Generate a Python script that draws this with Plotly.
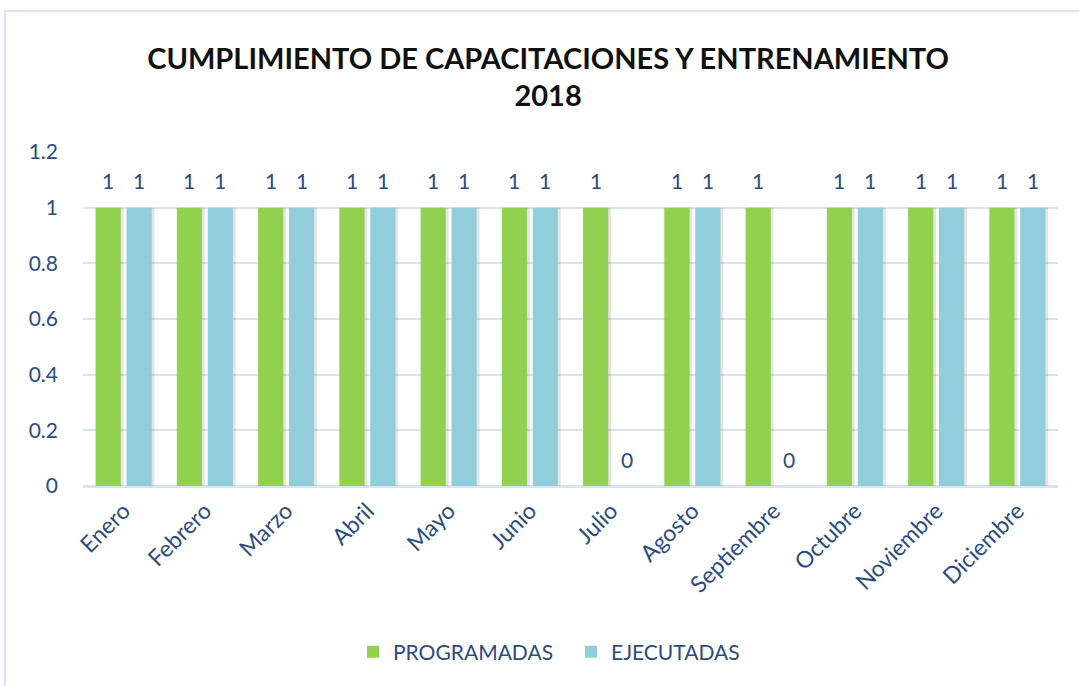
import plotly.graph_objects as go

# Monthly training plan vs. execution, 2018
meses = ["Enero", "Febrero", "Marzo", "Abril", "Mayo", "Junio", "Julio",
         "Agosto", "Septiembre", "Octubre", "Noviembre", "Diciembre"]
programadas = [1, 1, 1, 1, 1, 1, 1, 1, 1, 1, 1, 1]
ejecutadas = [1, 1, 1, 1, 1, 1, 0, 1, 0, 1, 1, 1]
y_ticks = [0, 0.2, 0.4, 0.6, 0.8, 1, 1.2]
y_tick_text = ["0", "0.2", "0.4", "0.6", "0.8", "1", "1.2"]

GREEN = "#92D050"
BLUE = "#92CDDC"
TEXT = "#2B4C7E"
GRID = "#D9E4F1"
FONT = "Lato"

W, H = 1079, 686
ML, MR, MT, MB = 83, 21, 152, 200

idx = list(range(len(meses)))
bar_w = 0.31
series = [
    ("PROGRAMADAS", programadas, GREEN, -0.345),
    ("EJECUTADAS", ejecutadas, BLUE, 0.035),
]

fig = go.Figure()

# soft drop shadow behind each bar
for name, vals, color, off in series:
    fig.add_trace(go.Bar(
        x=idx, y=vals, width=bar_w, offset=off + 0.035,
        marker=dict(color="rgba(0,0,0,0.10)", line=dict(width=0)),
        showlegend=False, hoverinfo="skip",
    ))

for name, vals, color, off in series:
    fig.add_trace(go.Bar(
        x=idx, y=vals, width=bar_w, offset=off, name=name,
        marker=dict(color=color, line=dict(width=0)),
    ))
    # value labels above each bar
    for i, v in zip(idx, vals):
        fig.add_annotation(
            x=i + off + bar_w / 2, y=v, xref="x", yref="y",
            text=str(v), showarrow=False, yanchor="middle", yshift=27,
            font=dict(family=FONT, size=21, color=TEXT),
        )

plot_w = W - ML - MR
plot_h = H - MT - MB
# outer chart frame
fig.add_shape(
    type="rect", xref="paper", yref="paper",
    x0=(5 - ML) / plot_w, x1=(W + 20 - ML) / plot_w,
    y0=-(H + 20 - MT - plot_h) / plot_h, y1=(H - 11 - MB) / plot_h,
    line=dict(color="#D6E3F3", width=2), layer="below",
)

fig.update_layout(
    width=W, height=H,
    margin=dict(l=ML, r=MR, t=MT, b=MB),
    paper_bgcolor="white", plot_bgcolor="white",
    barmode="overlay",
    title=dict(
        text="CUMPLIMIENTO DE CAPACITACIONES Y ENTRENAMIENTO<br>2018",
        x=0.508, xanchor="center", y=0.900, yanchor="middle",
        font=dict(family=FONT, size=29, color="#111111", weight="bold"),
    ),
    legend=dict(
        orientation="h", x=(353 - 83) / 975, xanchor="left",
        y=-0.497, yanchor="middle",
        font=dict(family=FONT, size=21, color=TEXT),
        itemwidth=30, entrywidth=173, traceorder="normal",
    ),
    xaxis=dict(
        range=[-0.5, 11.5], tickvals=idx, ticktext=meses, tickangle=-45,
        showgrid=False, zeroline=False, showline=False, ticks="",
        ticklabelstandoff=6,
        tickfont=dict(family=FONT, size=23, color=TEXT),
        fixedrange=True,
    ),
    yaxis=dict(
        range=[0, 1.2], tickvals=y_ticks, ticktext=y_tick_text,
        showgrid=True, gridcolor=GRID, gridwidth=2,
        zeroline=True, zerolinecolor=GRID, zerolinewidth=3,
        showline=False, ticks="", ticklabelstandoff=24,
        tickfont=dict(family=FONT, size=21, color=TEXT),
        fixedrange=True,
    ),
)

fig.write_html("out.html")
